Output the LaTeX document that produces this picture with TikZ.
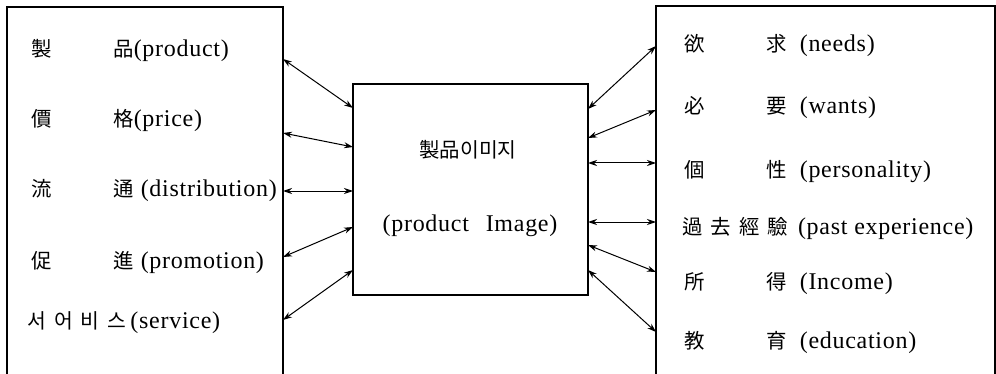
\documentclass[tikz,border=0pt]{standalone}
\usepackage{fontspec}
\setmainfont{Liberation Serif}[LetterSpace=3]
\newfontfamily\cjk{Noto Sans CJK KR}[Scale=0.85]
\usepackage{tikz}
\usetikzlibrary{positioning}
\usetikzlibrary{fit}
\usetikzlibrary{arrows.meta}

\newcommand{\hanpair}[3]{\makebox[41pt][l]{\cjk #1}{\cjk #2}\hspace{#3}}

\begin{document}
\begin{tikzpicture}[
                          x=0.5pt, y=-0.5pt,
                          boxline/.style={line width=0.9pt},
                          framenode/.style={rectangle, inner sep=0pt, outer sep=0pt},
                          imagebox/.style={framenode, draw, line width=0.9pt},
                          labeltext/.style={inner sep=0pt, font=\fontsize{12pt}{14pt}\selectfont},
                          itemtext/.style={labeltext, anchor=west},
                          link/.style={<->, line width=0.5pt},
                          >={Stealth[length=4.5pt,width=3pt]},
                      ]
                      \useasboundingbox (0,0) rectangle (996,374);

                      % Boxes
                      \node[framenode, fit={(7,7) (283,374)}]       (mix_box)      {};
                      \node[imagebox, fit={(353,84) (588,295)}]     (image_box)    {};
                      \node[framenode, fit={(656,6) (995,374)}]     (consumer_box) {};
                      \draw[boxline] (mix_box.south west) |- (mix_box.north east) -- (mix_box.south east);
                      \draw[boxline] (consumer_box.south west) |- (consumer_box.north east) -- (consumer_box.south east);

                      % Nodes
                      \node[itemtext]   (mix_1)   at (31,50)   {\hanpair{製}{品}{0pt}(product)};
                      \node[itemtext]   (mix_2)   at (31,120)  {\hanpair{價}{格}{0pt}(price)};
                      \node[itemtext]   (mix_3)   at (31,190)  {\hanpair{流}{通}{3.5pt}(distribution)};
                      \node[itemtext]   (mix_4)   at (31,263)  {\hanpair{促}{進}{3.5pt}(promotion)};
                      \node[itemtext]   (mix_5)   at (27,323)  {{\cjk 서\hspace{4pt}어\hspace{4pt}비\hspace{4pt}스}\hspace{2pt}(service)};

                      \node[labeltext]  (image_kr)  at (468,150)  {\cjk 製品이미지};
                      \node[labeltext]  (image_en)  at (470,226)  {(product\hspace{0.7em}Image)};

                      \node[itemtext]   (need_1)  at (684,45)   {\hanpair{欲}{求}{6.5pt}(needs)};
                      \node[itemtext]   (need_2)  at (684,108)  {\hanpair{必}{要}{6.5pt}(wants)};
                      \node[itemtext]   (need_3)  at (684,172)  {\hanpair{個}{性}{6.5pt}(personality)};
                      \node[itemtext]   (need_4)  at (682,228)  {{\cjk 過\hspace{4pt}去\hspace{4pt}經\hspace{4pt}驗}\hspace{5pt}(past experience)};
                      \node[itemtext]   (need_5)  at (684,284)  {\hanpair{所}{得}{6.5pt}(Income)};
                      \node[itemtext]   (need_6)  at (684,342)  {\hanpair{教}{育}{6.5pt}(education)};

                      %Lines
                      \draw[link] (mix_box.east |- 0,59)   -- (image_box.west |- 0,108);
                      \draw[link] (mix_box.east |- 0,133)  -- (image_box.west |- 0,147);
                      \draw[link] (mix_box.east |- 0,191)  -- (image_box.west |- 0,191);
                      \draw[link] (mix_box.east |- 0,257)  -- (image_box.west |- 0,227);
                      \draw[link] (mix_box.east |- 0,320)  -- (image_box.west |- 0,270);

                      \draw[link] (image_box.east |- 0,109) -- (consumer_box.west |- 0,46);
                      \draw[link] (image_box.east |- 0,138) -- (consumer_box.west |- 0,110);
                      \draw[link] (image_box.east |- 0,163) -- (consumer_box.west |- 0,163);
                      \draw[link] (image_box.east |- 0,222) -- (consumer_box.west |- 0,222);
                      \draw[link] (image_box.east |- 0,245) -- (consumer_box.west |- 0,272);
                      \draw[link] (image_box.east |- 0,270) -- (consumer_box.west |- 0,332);
                  \end{tikzpicture}
\end{document}
